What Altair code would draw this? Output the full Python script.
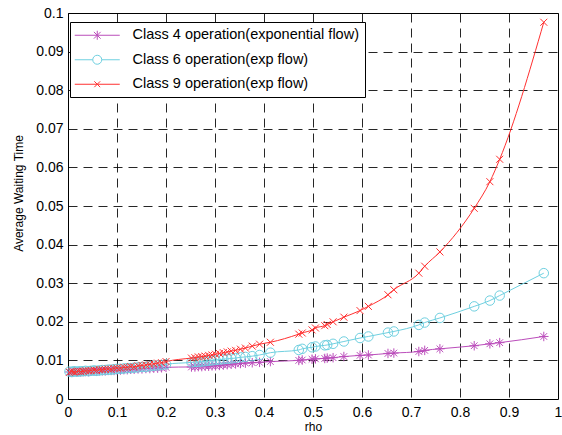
import altair as alt
import pandas as pd

# ---------------- data ----------------
series_names = [
    "Class 4 operation(exponential flow)",
    "Class 6 operation(exp flow)",
    "Class 9 operation(exp flow)",
]
series_colors = ["#bb4dbb", "#6fd0e0", "#ff3030"]

rho = [
    0.003, 0.008, 0.012, 0.017, 0.021, 0.026, 0.031, 0.036, 0.042, 0.047,
    0.053, 0.058, 0.064, 0.070, 0.076, 0.082, 0.088, 0.094, 0.100, 0.107,
    0.114, 0.121, 0.128, 0.135, 0.143, 0.151, 0.159, 0.167, 0.175, 0.183,
    0.191, 0.200,
    0.252, 0.259, 0.266, 0.273, 0.280, 0.287, 0.294, 0.301, 0.309, 0.317,
    0.325, 0.333, 0.342, 0.352, 0.362, 0.376, 0.391, 0.413,
    0.471, 0.478, 0.498, 0.505, 0.524, 0.529, 0.541, 0.563, 0.596, 0.613,
    0.653, 0.665, 0.716, 0.728, 0.759, 0.829, 0.861, 0.881, 0.971,
]

w_class4 = [
    0.0070, 0.0069, 0.0070, 0.0070, 0.0071, 0.0070, 0.0071, 0.0071, 0.0071, 0.0072,
    0.0072, 0.0072, 0.0073, 0.0073, 0.0073, 0.0074, 0.0074, 0.0074, 0.0075, 0.0075,
    0.0076, 0.0076, 0.0077, 0.0077, 0.0078, 0.0078, 0.0079, 0.0079, 0.0080, 0.0080,
    0.0081, 0.0082,
    0.0083, 0.0083, 0.0084, 0.0084, 0.0085, 0.0085, 0.0086, 0.0086, 0.0087, 0.0088,
    0.0089, 0.0090, 0.0091, 0.0092, 0.0093, 0.0094, 0.0095, 0.0097,
    0.0100, 0.0101, 0.0103, 0.0104, 0.0105, 0.0106, 0.0107, 0.0110, 0.0113, 0.0114,
    0.0118, 0.0119, 0.0123, 0.0126, 0.0130, 0.0138, 0.0143, 0.0146, 0.0162,
]

w_class6 = [
    0.0071, 0.0070, 0.0072, 0.0071, 0.0071, 0.0072, 0.0072, 0.0073, 0.0072, 0.0073,
    0.0074, 0.0073, 0.0074, 0.0075, 0.0075, 0.0076, 0.0076, 0.0077, 0.0078, 0.0078,
    0.0079, 0.0080, 0.0080, 0.0081, 0.0082, 0.0083, 0.0083, 0.0085, 0.0086, 0.0087,
    0.0088, 0.0090,
    0.0095, 0.0096, 0.0096, 0.0097, 0.0098, 0.0099, 0.0100, 0.0101, 0.0102, 0.0103,
    0.0104, 0.0105, 0.0106, 0.0108, 0.0109, 0.0111, 0.0114, 0.0120,
    0.0127, 0.0130, 0.0134, 0.0136, 0.0139, 0.0140, 0.0143, 0.0149, 0.0158, 0.0162,
    0.0172, 0.0175, 0.0192, 0.0198, 0.0210, 0.0240, 0.0255, 0.0268, 0.0326,
]

w_class9 = [
    0.0069, 0.0071, 0.0070, 0.0071, 0.0072, 0.0071, 0.0072, 0.0073, 0.0073, 0.0074,
    0.0075, 0.0074, 0.0076, 0.0076, 0.0077, 0.0078, 0.0077, 0.0079, 0.0080, 0.0080,
    0.0082, 0.0082, 0.0084, 0.0083, 0.0086, 0.0087, 0.0088, 0.0090, 0.0091, 0.0093,
    0.0094, 0.0097,
    0.0106, 0.0107, 0.0109, 0.0110, 0.0111, 0.0113, 0.0114, 0.0116, 0.0118, 0.0120,
    0.0122, 0.0124, 0.0126, 0.0129, 0.0132, 0.0137, 0.0142, 0.0147,
    0.0168, 0.0171, 0.0179, 0.0184, 0.0190, 0.0193, 0.0200, 0.0212, 0.0229, 0.0240,
    0.0270, 0.0283, 0.0326, 0.0344, 0.0381, 0.0494, 0.0563, 0.0621, 0.0976,
]

x_ticks = [0, 0.1, 0.2, 0.3, 0.4, 0.5, 0.6, 0.7, 0.8, 0.9, 1.0]
y_ticks = [0, 0.01, 0.02, 0.03, 0.04, 0.05, 0.06, 0.07, 0.08, 0.09, 0.1]

# ---------------- styles ----------------
FONT = "Liberation Sans"
marker_shapes = [
    "M0,-1V1M-1,0H1M-0.7,-0.7L0.7,0.7M-0.7,0.7L0.7,-0.7",   # asterisk
    "circle",                                               # open circle
    "M-1,-1L1,1M-1,1L1,-1",                                 # x
]
marker_sizes = [90, 90, 49]
legend_shapes = [
    "M-5,0H5M0,-1V1M-0.75,-0.75L0.75,0.75M-0.75,0.75L0.75,-0.75",
    "M-5,0H-1M1,0H5M1,0A1,1,0,1,1,-1,0A1,1,0,1,1,1,0Z",
    "M-5,0H5M-0.65,-0.65L0.65,0.65M-0.65,0.65L0.65,-0.65",
]

rows = []
for name, ws in zip(series_names, [w_class4, w_class6, w_class9]):
    for r, w in zip(rho, ws):
        rows.append({"rho": r, "W": w, "series": name})
df = pd.DataFrame(rows)

x_scale = alt.Scale(domain=[0, 1], nice=False, zero=False)
y_scale = alt.Scale(domain=[0, 0.1], nice=False, zero=False)

x_axis = alt.Axis(
    values=x_ticks, format=".1~f", title="rho", grid=True, ticks=False,
    domain=False, labelFlush=False, labelPadding=6, titlePadding=2,
)
y_axis = alt.Axis(
    values=y_ticks, format=".2~f", title="Average Waiting Time", grid=True,
    ticks=False, domain=False, labelPadding=5, titlePadding=10, titleY=180,
)

X = alt.X("rho:Q", scale=x_scale, axis=x_axis)
Y = alt.Y("W:Q", scale=y_scale, axis=y_axis)

base = alt.Chart(df)
layers = []
for name, col, shp, sz in zip(series_names, series_colors, marker_shapes, marker_sizes):
    sub = base.transform_filter(alt.datum.series == name)
    layers.append(
        sub.mark_line(color=col, strokeWidth=1, interpolate="monotone").encode(x=X, y=Y)
    )
    layers.append(
        sub.mark_point(shape=shp, size=sz, color=col, filled=False, strokeWidth=1,
                       opacity=1).encode(x=X, y=Y)
    )

legend = alt.Legend(
    title=None, orient="none", legendX=2, legendY=9, padding=6,
    fillColor="white", strokeColor="black",
    labelFont=FONT, labelFontSize=14.5, labelColor="black", labelLimit=500,
    symbolOffset=14, labelOffset=28, rowPadding=9.5, symbolSize=81,
    symbolStrokeWidth=1,
)

# invisible layer (clipped, off-plot) that only feeds the legend
legend_layer = base.transform_calculate(W_off="datum.W + 1").mark_point(
    clip=True, filled=False, size=81, strokeWidth=1, opacity=1
).encode(
    x=X,
    y=alt.Y("W_off:Q", scale=y_scale, axis=y_axis),
    color=alt.Color("series:N", scale=alt.Scale(domain=series_names, range=series_colors),
                    legend=legend),
    shape=alt.Shape("series:N", scale=alt.Scale(domain=series_names, range=legend_shapes),
                    legend=legend),
)

chart = alt.layer(*layers, legend_layer).properties(
    width=490, height=386,
    padding={"left": 68, "top": 13, "right": 4, "bottom": 36},
    autosize=alt.AutoSizeParams(type="none"),
    background="white",
).configure_view(
    stroke="black", strokeWidth=1
).configure_axis(
    labelFont=FONT, labelFontSize=14, labelColor="black",
    titleFont=FONT, titleFontSize=12, titleFontWeight="normal", titleColor="black",
    gridColor="#000000", gridOpacity=0.85, gridDash=[9, 6], gridWidth=1,
)

chart.save("out.html", embed_options={"renderer": "svg", "actions": False})
